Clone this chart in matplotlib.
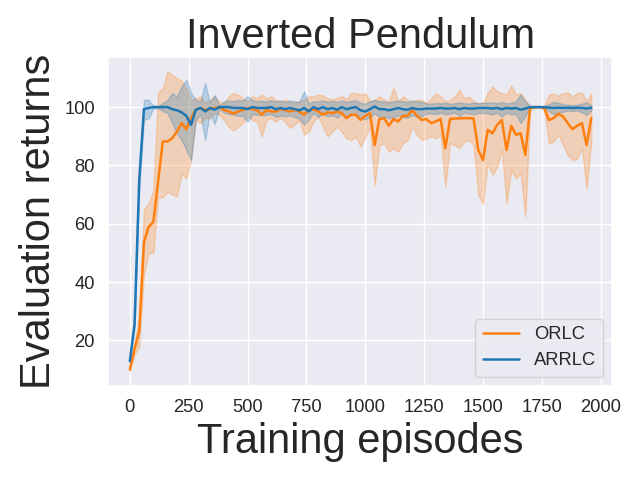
import numpy as np
import matplotlib
matplotlib.use("Agg")
import matplotlib.pyplot as plt
import seaborn as sns

# evaluation every 20 episodes
episodes = np.arange(0, 1961, 20)

# ORLC mean and band
orlc = [10, 17, 23.2, 53.7, 58.9, 60.6, 74.4, 88.2, 88.2, 89.3,
        91.6, 94.5, 92.4, 96.2, 99.1, 99.7, 99.1, 99.3, 99.7, 100,
        99, 98.5, 97.7, 98.5, 99, 99.7, 99.3, 99, 97.4, 99,
        98.5, 98.5, 99.3, 99, 98.5, 99, 98.5, 97.4, 99, 99.3,
        98.5, 97.4, 98.2, 97.9, 98.5, 97.9, 96.2, 97.4, 97.4, 95.6,
        97, 97.9, 87, 95.9, 96.2, 93.6, 95.9, 95.1, 97, 97,
        99, 97, 95.6, 95.9, 94.5, 95.1, 95.9, 85.9, 95.9, 96.1,
        96.1, 96.2, 96.2, 96.1, 85.3, 81.8, 92.2, 91, 93.9, 95.6,
        85.3, 93.6, 90.5, 91, 83.6, 99.7, 100, 100, 99.7, 95.6,
        96.2, 97.7, 96.8, 94.5, 92.4, 93.6, 94.5, 87, 96.2]
orlc_hi = [11, 19, 28, 65, 67, 71.5, 105, 106.5, 112.3, 111,
           110, 109, 106.5, 102.5, 103, 103.7, 101.4, 102.5, 103.7, 102,
           101.4, 103.7, 104.8, 104.3, 103, 102, 103.7, 103, 104.3, 103,
           103.7, 102.5, 102, 102.5, 102, 101.4, 102, 102.5, 103.7, 103.7,
           104.3, 104, 103, 102.7, 103.2, 103.7, 102.7, 104.8, 104.8, 104.3,
           104.8, 102, 102.5, 103.7, 102.5, 102, 106.6, 102, 103.7, 102.5,
           102, 102.5, 102.5, 101.4, 103, 104.8, 103.7, 102, 102.5, 103.7,
           106, 103, 103.7, 102, 101.4, 101.4, 104.8, 107.1, 105.4, 104.8,
           104.3, 107.4, 104.3, 104.8, 102.5, 100.3, 100, 100, 100.3, 104.3,
           104.6, 103.9, 104.8, 105, 103.7, 104.8, 105, 102, 104.8]
orlc_lo = [9.5, 15, 18, 42.8, 50, 50, 69, 69, 71, 70,
           69.4, 77, 75.5, 82, 95.6, 94.5, 96.2, 96.2, 97.9, 97.4,
           95.6, 93.3, 92, 93.3, 94.5, 96.8, 95.6, 95, 89.9, 95.6,
           96.2, 95, 96.2, 95, 92.8, 94, 95.6, 90.5, 91.6, 95,
           96.8, 93.3, 89.9, 91.6, 93.3, 91.6, 89.3, 88.7, 89.9, 86.4,
           89.9, 93.3, 73.2, 87, 87.6, 84.7, 85.9, 84.7, 87.6, 88.7,
           93.3, 90.5, 88.7, 89.3, 89.9, 89.3, 90.5, 72.6, 87.6, 87,
           85.9, 88.2, 88.7, 87, 69.8, 66.9, 80.7, 76.8, 79.5, 85.3,
           66.9, 78.4, 75.5, 77.2, 62.3, 99, 99.8, 99.8, 99, 87.6,
           88.2, 90.5, 87, 83.6, 81.8, 82.4, 85.9, 72.1, 88.2]

# ARRLC mean and band
arrlc = [12.9, 25.5, 75, 99.3, 99.7, 100, 100, 100, 100, 99.3,
         98.9, 98.2, 97, 93.9, 99.1, 99.7, 98.5, 99.7, 99.1, 100,
         100, 100, 99.7, 99.7, 99.7, 99.3, 100, 99.7, 99.7, 99.7,
         100, 99.3, 99.7, 99.3, 99.7, 99.3, 98.9, 99.7, 98.5, 100,
         99.3, 100, 99.3, 99.7, 99.1, 100, 99.3, 99.7, 100, 98.9,
         98.5, 99.3, 100.2, 99.3, 99.3, 98.9, 99.3, 99.7, 99.3, 99.1,
         99.7, 99.3, 99.3, 99.5, 99.5, 99.5, 99.7, 99.5, 99.5, 99.7,
         99.3, 99.7, 99.5, 99.5, 99.7, 99.7, 99.7, 99.5, 99.7, 99.3,
         99.7, 99.5, 99.7, 99.1, 99.5, 100, 100, 100, 100, 99.8,
         99.7, 99.8, 99.7, 99.8, 99.7, 99.8, 99.7, 99.5, 99.8]
arrlc_hi = [13.5, 26.5, 78, 102.5, 102.5, 100.5, 100.3, 101.4, 102.5, 104.8,
            103.7, 107, 109.4, 104.8, 102.5, 102, 108.3, 101.5, 104.2, 100.5,
            102, 102.3, 102, 102.5, 102.3, 103.7, 102.5, 102, 102.2, 102,
            102.4, 102, 102.3, 101.8, 102.2, 102, 101.8, 105.4, 101.2, 102,
            102, 102.3, 101.8, 102.2, 101.8, 102.3, 101.8, 102.2, 102.4, 101.5,
            101.2, 102, 102.5, 102, 102, 101.6, 102, 102.2, 102, 101.8,
            102.2, 102, 101.8, 101.2, 101.2, 101.4, 101.3, 101.5, 101.2, 101.3,
            101.6, 101.3, 101.2, 101.5, 101.3, 101.5, 101.5, 101.6, 101.3, 101.8,
            101.3, 101.5, 102, 104.3, 102, 100.3, 100.1, 100.1, 100.3, 101,
            101.8, 101.5, 101, 100.8, 100.7, 100.8, 101.2, 101.7, 100.6]
arrlc_lo = [12.3, 24.5, 72, 95.6, 96.2, 99.5, 99.7, 98.6, 98, 94.5,
            91, 88.7, 85.3, 81.8, 95.6, 97.6, 88.7, 98, 94.1, 99.5,
            98, 97.7, 97.4, 97, 97, 95, 97.5, 97.4, 97.2, 97.4,
            97.6, 96.6, 97.1, 96.8, 97.2, 96.6, 96, 94, 95.8, 98,
            96.6, 97.7, 96.8, 97.2, 96.4, 97.7, 96.8, 97.2, 97.6, 96.3,
            95.8, 96.6, 97.9, 96.6, 96.6, 96.2, 96.6, 97.2, 96.6, 96.4,
            97.2, 96.6, 96.8, 97.8, 97.8, 97.6, 98.1, 97.5, 97.8, 98.1,
            97, 98.1, 97.8, 97.5, 98.1, 97.9, 97.9, 97.4, 98.1, 96.8,
            98.1, 97.5, 97.5, 94.5, 97, 99.7, 99.9, 99.9, 99.7, 98.6,
            97.6, 98.1, 98.4, 98.8, 98.7, 98.8, 98.2, 97.3, 99]

sns.set_theme(style="darkgrid", font_scale=1.2)
plt.rcParams['font.family'] = ['Liberation Sans', 'DejaVu Sans']

fig, ax = plt.subplots(figsize=(6.4, 4.8), dpi=100)
fig.subplots_adjust(left=0.169, right=0.957, bottom=0.196, top=0.882)

ax.plot(episodes, orlc, color="tab:orange", lw=1.8, label="ORLC")
ax.fill_between(episodes, orlc_lo, orlc_hi, color="tab:orange", alpha=0.25, lw=1)
ax.plot(episodes, arrlc, color="tab:blue", lw=1.8, label="ARRLC")
ax.fill_between(episodes, arrlc_lo, arrlc_hi, color="tab:blue", alpha=0.25, lw=1)

ax.set_xlim(-92, 2050)
ax.set_ylim(4.4, 117.3)
ax.set_xticks(np.arange(0, 2001, 250))
ax.set_yticks([20, 40, 60, 80, 100])

ax.set_title("Inverted Pendulum", fontsize=30)
ax.set_xlabel("Training episodes", fontsize=30)
ax.set_ylabel("Evaluation returns", fontsize=30)
ax.legend(loc="lower right")

fig.savefig("out.png")
